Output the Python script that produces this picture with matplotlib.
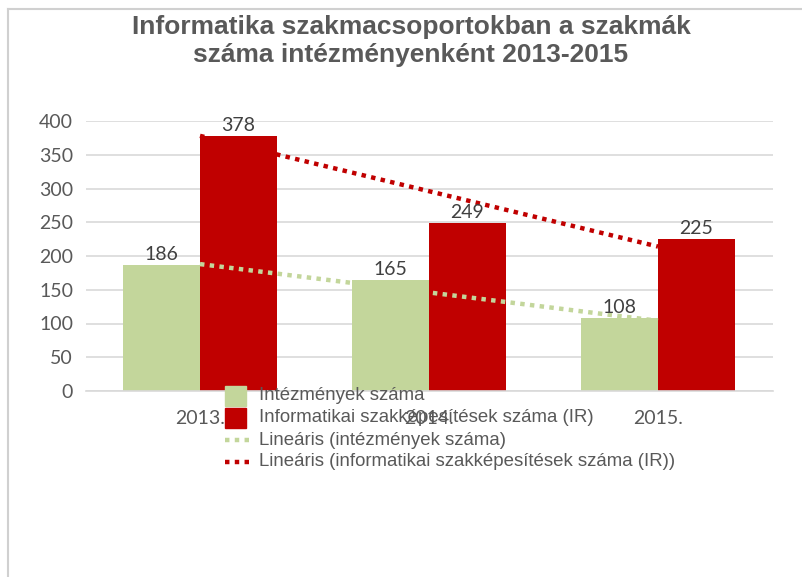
import matplotlib
matplotlib.use('Agg')
import matplotlib.pyplot as plt
from matplotlib.patches import Rectangle
from matplotlib.lines import Line2D
import numpy as np

years = ['2013.', '2014.', '2015.']
intezmenyek = [186, 165, 108]
szakkepesitesek = [378, 249, 225]
# trendline end values
trend_intezmenyek = [188, 104]
trend_szakkepesitesek = [378, 214]

legend_labels = ['Intézmények száma',
                 'Informatikai szakképesítések száma (IR)',
                 'Lineáris (intézmények száma)',
                 'Lineáris (informatikai szakképesítések száma (IR))']

GREEN = '#C3D69B'
RED = '#C00000'
GRAY = '#595959'
GRID = '#D9D9D9'

W, H = 802, 577
fig = plt.figure(figsize=(W / 100, H / 100), dpi=100)
ax = fig.add_axes([85.5 / W, 1 - 391 / H, 687 / W, 270 / H])

x = np.arange(len(years))
bw = 0.336
ax.bar(x - bw / 2, intezmenyek, bw, color=GREEN, zorder=2)
ax.bar(x + bw / 2, szakkepesitesek, bw, color=RED, zorder=2)

dot = dict(lw=3.2, dashes=(1, 1.2), dash_capstyle='butt')
ax.plot([x[0], x[-1]], trend_intezmenyek, color=GREEN, zorder=3, **dot)
ax.plot([x[0], x[-1]], trend_szakkepesitesek, color=RED, zorder=3, **dot)

num_font = 'Lato'
for i in range(len(years)):
    ax.text(x[i] - bw / 2, intezmenyek[i] + 3, str(intezmenyek[i]), ha='center',
            va='bottom', fontsize=14, color='#404040', family=num_font, zorder=4)
    ax.text(x[i] + bw / 2, szakkepesitesek[i] + 3, str(szakkepesitesek[i]), ha='center',
            va='bottom', fontsize=14, color='#404040', family=num_font, zorder=4)

ax.set_xlim(-0.5, 2.5)
ax.set_ylim(0, 400)
ax.set_yticks(range(0, 401, 50))
ax.set_xticks(x)
ax.set_xticklabels(years)
ax.tick_params(axis='y', length=0, pad=9, labelsize=14, labelcolor=GRAY)
ax.tick_params(axis='x', length=0, pad=14, labelsize=14, labelcolor=GRAY)
for lab in ax.get_xticklabels() + ax.get_yticklabels():
    lab.set_family(num_font)
ax.grid(axis='y', color=GRID, lw=1.2, zorder=0)
for s in ['top', 'right', 'left']:
    ax.spines[s].set_visible(False)
ax.spines['bottom'].set_color(GRID)
ax.spines['bottom'].set_linewidth(1.2)

fig.text(411 / W, 1 - 15 / H, 'Informatika szakmacsoportokban a szakmák\nszáma intézményenként 2013-2015',
         ha='center', va='top', fontsize=19, fontweight='bold', color=GRAY,
         family='Liberation Sans', linespacing=1.22)

# legend, drawn by hand in pixel positions
def px(xp, yp):
    return xp / W, 1 - yp / H

rows = [395.5, 417.5, 440, 461.5]
for yc, col in zip(rows[:2], [GREEN, RED]):
    x0, y0 = px(225, yc + 10)
    fig.add_artist(Rectangle((x0, y0), 21 / W, 20 / H, color=col,
                             transform=fig.transFigure, zorder=5))
for yc, col in zip(rows[2:], [GREEN, RED]):
    xa, ya = px(225, yc)
    xb, _ = px(254, yc)
    fig.add_artist(Line2D([xa, xb], [ya, ya], color=col, zorder=5, **dot))
for yc, lab in zip(rows, legend_labels):
    xt, yt = px(259, yc + 5)
    fig.text(xt, yt, lab, ha='left', va='baseline', fontsize=13.4,
             color=GRAY, family='Liberation Sans', zorder=5)

# outer frame (top and left edges only visible)
fig.add_artist(Line2D([8 / W, 1], [1 - 9 / H, 1 - 9 / H], color='#D0D0D0', lw=1.5))
fig.add_artist(Line2D([8 / W, 8 / W], [0, 1 - 9 / H], color='#D0D0D0', lw=1.5))

fig.savefig('out.png', dpi=100)
